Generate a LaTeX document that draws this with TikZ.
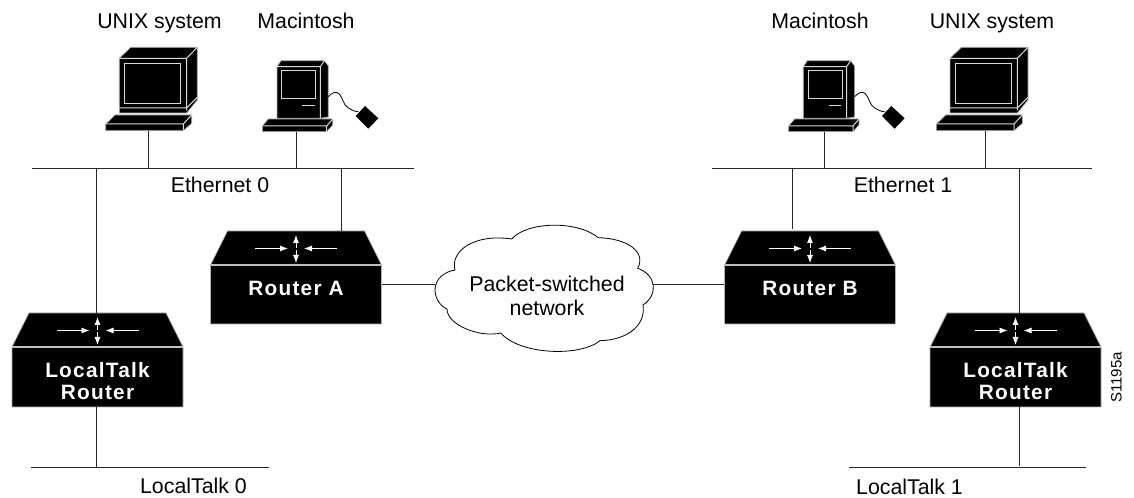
\documentclass[tikz,border=0pt]{standalone}
\usepackage{fontspec}
\setmainfont{Liberation Sans}
\newfontfamily\rfont[LetterSpace=6]{Liberation Sans Bold}
\usetikzlibrary{arrows.meta}
\tikzset{
  x=0.75pt,y=-0.75pt,
  wire/.style={draw=black!85,line width=0.75pt},
  lbl/.style={font=\fontsize{16}{18}\selectfont,inner sep=0pt,text=black,anchor=base},
  rlbl/.style={font=\rfont\fontsize{15.6}{16.5}\selectfont,text=white,align=center,inner sep=0pt},
  blk/.style={fill=black,draw=black!30,line width=0.5pt,line join=round},
  edge/.style={draw=white!85!black,line width=0.75pt},
  ra/.style={draw=white,line width=0.6pt,-{Latex[length=6pt,width=4.5pt]}},
}
% \rtr{name}{center x}{top y}{roof height}{front height}{label offset}{label}
\newcommand{\rtr}[7]{%
  \fill[black,draw=black!30,line width=0.5pt] (#2-85.5,#3+#4) -- (#2-68.5,#3) -- (#2+68.5,#3) -- (#2+85.5,#3+#4) -- (#2+85.5,#3+#4+#5) -- (#2-85.5,#3+#4+#5) -- cycle;
  \draw[draw=black!25,line width=0.8pt] (#2-85.5,#3+#4) -- (#2+85.5,#3+#4);
  \draw[ra] (#2-41,#3+17.5) -- (#2-8,#3+17.5);
  \draw[ra] (#2+41,#3+17.5) -- (#2+8,#3+17.5);
  \draw[ra] (#2,#3+17) -- (#2,#3+4);
  \draw[ra] (#2,#3+19.5) -- (#2,#3+32);
  \node[rlbl] (#1) at (#2,#3+#4+#6) {#7};
}
% UNIX workstation, origin = front top-left of monitor
\newcommand{\unixbox}[3]{%
  \begin{scope}[shift={(#2,#3)}]
  \fill[blk] (0,0) -- (11.4,-11) -- (78,-11) -- (78,41.7) -- (67.4,54.7) -- (0,54.7) -- cycle;
  \draw[edge] (0,0) -- (67.4,0) -- (78,-11) (67.4,0) -- (67.4,52);
  \draw[edge] (0,49.7) -- (67.4,49.7) (67.4,49.7) -- (78,39);
  \draw[edge] (5,5.7) rectangle (61.4,45.7);
  \fill[blk] (-13.6,65.7) -- (-4.3,56.7) -- (72.4,56.7) -- (72.4,65) -- (64,72.4) -- (-13.6,72.4) -- cycle;
  \draw[edge] (-13.6,65.7) -- (64,65.7) -- (72.4,56.7) (64,65.7) -- (64,72.4);
  \end{scope}
}
% Macintosh, origin = front top-left of case
\newcommand{\macbox}[3]{%
  \begin{scope}[shift={(#2,#3)}]
  \fill[blk] (0,0) -- (4,-6) -- (47.3,-6) -- (51.3,-0.7) -- (51.3,50.3) -- (43.3,51.6) -- (0,51.6) -- cycle;
  \draw[edge] (0,0) -- (43.3,0) -- (47.3,-6) (43.3,0) -- (43.3,51.6);
  \draw[edge] (4.7,4.3) rectangle (38.7,31.6);
  \draw[edge] (25.3,38.6) -- (38,38.6);
  \fill[blk] (-14.7,59.3) -- (-8.7,52.3) -- (55.7,52.3) -- (55.7,58.3) -- (49.7,65) -- (-14.7,65) -- cycle;
  \draw[edge] (-14.7,59.3) -- (49.7,59.3) -- (55.7,52.3) (49.7,59.3) -- (49.7,65);
  \draw[black,line width=0.6pt] (51.3,30) .. controls (55,26) and (59,24) .. (62,27) .. controls (66,31) and (66,38) .. (71,41) .. controls (74,43) and (78,45) .. (81.3,45);
  \fill[black] (88,39.3) -- (101.3,51.6) -- (91.3,62) -- (78.7,49.3) -- cycle;
  \end{scope}
}
\begin{document}
\begin{tikzpicture}
\useasboundingbox (0,0) rectangle (1134,498);
% hosts
\unixbox{ul}{119.3}{58.3}
\macbox{ml}{277}{66.7}
\macbox{mr}{803.3}{66.7}
\unixbox{ur}{950}{58.3}
% routers
\rtr{rla}{296}{231}{34}{59}{23}{Router A}
\rtr{rlb}{810}{231}{34}{59}{23}{Router B}
\rtr{ltl}{97.5}{313}{34}{60}{34}{LocalTalk\\Router}
\rtr{ltr}{1015.5}{313}{34}{60}{34}{LocalTalk\\Router}
% cloud
\draw[black,line width=0.6pt,fill=white]
  (435,290) .. controls (435,278.3) and (445,271.7) .. (455,270)
  .. controls (450,251.7) and (473.3,233.3) .. (511.7,239)
  .. controls (526.7,221.7) and (576.7,220) .. (598.3,237.7)
  .. controls (626.7,238.3) and (646.7,251.7) .. (637.7,268.3)
  .. controls (656.7,275) and (658.3,295) .. (643,305)
  .. controls (646,325) and (628,340) .. (600,340.7)
  .. controls (580,357) and (520,355) .. (500.7,333)
  .. controls (480,338) and (447,325) .. (447,309)
  .. controls (440,306) and (435,298) .. (435,290) -- cycle;
\node[lbl,anchor=center,align=center] (cloud) at (547,296) {Packet-switched\\network};
\coordinate (cloudL) at (435,285);
\coordinate (cloudR) at (653,285);
% buses
\coordinate (e0a) at (32,168.7); \coordinate (e0b) at (414,168.7);
\coordinate (e1a) at (711.7,168.7); \coordinate (e1b) at (1092,168.7);
\coordinate (l0a) at (31,467.7); \coordinate (l0b) at (268.5,467.7);
\coordinate (l1a) at (848.7,467.7); \coordinate (l1b) at (1085.7,467.7);
\draw[wire] (e0a) -- (e0b);
\draw[wire] (e1a) -- (e1b);
\draw[wire] (l0a) -- (l0b);
\draw[wire] (l1a) -- (l1b);
% connectors
\coordinate (ulx) at (148.7,131); \coordinate (mlx) at (296.7,132);
\coordinate (mrx) at (824.5,132); \coordinate (urx) at (985.7,131);
\draw[wire] (ulx) -- (ulx |- e0a);
\draw[wire] (mlx) -- (mlx |- e0a);
\draw[wire] (mrx) -- (mrx |- e1a);
\draw[wire] (urx) -- (urx |- e1a);
\coordinate (rax) at (341.7,231); \coordinate (rbx) at (792.3,229);
\draw[wire] (rax) -- (rax |- e0a);
\draw[wire] (rbx) -- (rbx |- e1a);
\coordinate (ltlx) at (96.7,313); \coordinate (ltrx) at (1019.3,313);
\draw[wire] (ltlx) -- (ltlx |- e0a);
\draw[wire] (ltrx) -- (ltrx |- e1a);
\coordinate (ltly) at (96.7,407); \coordinate (ltry) at (1019.3,407);
\draw[wire] (ltly) -- (ltly |- l0a);
\coordinate (ltre) at (1019.3,465.5);
\draw[wire] (ltry) -- (ltre);
\coordinate (raR) at (382,285); \coordinate (rbL) at (724,285);
\draw[wire] (raR) -- (cloudL);
\draw[wire] (cloudR) -- (rbL);
% labels
\node[lbl] (t1) at (159.5,29) {UNIX system};
\node[lbl] (t2) at (306,29) {Macintosh};
\node[lbl] (t3) at (820,29) {Macintosh};
\node[lbl] (t4) at (992,29) {UNIX system};
\node[lbl] (t5) at (220,192.3) {Ethernet 0};
\node[lbl] (t6) at (903,192.3) {Ethernet 1};
\node[lbl] (t7) at (193.5,493) {LocalTalk 0};
\node[lbl] (t8) at (909.5,494) {LocalTalk 1};
\node[lbl,anchor=center,rotate=90,font=\fontsize{11.3}{13}\selectfont] (t9) at (1116.5,377.5) {S1195a};
\end{tikzpicture}
\end{document}
